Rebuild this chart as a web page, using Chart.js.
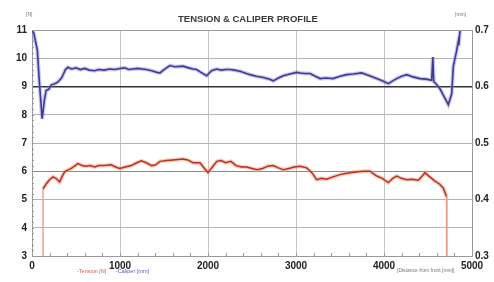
<!DOCTYPE html>
<html>
<head>
<meta charset="utf-8">
<script src="https://cdn.jsdelivr.net/npm/chart.js@4.4.0/dist/chart.umd.min.js"></script>
<style>
html,body{margin:0;padding:0;background:#fff;}
#wrap{width:494px;height:282px;position:relative;}
</style>
</head>
<body>
<div id="wrap"><canvas id="c" width="494" height="282"></canvas></div>
<script>
// ---- data ----
const caliperDistance = [0,20,40,60,85,115,140,160,190,220,260,295,335,360,380,410,450,500,550,600,650,712,760,820,880,940,1000,1053,1100,1150,1200,1250,1300,1360,1420,1455,1500,1568,1620,1716,1780,1830,1871,1920,1985,2040,2098,2150,2200,2250,2300,2364,2420,2477,2550,2629,2700,2742,2800,2856,2930,3008,3050,3100,3159,3220,3273,3340,3420,3500,3576,3650,3746,3820,3917,3980,4049,4100,4144,4200,4258,4330,4409,4480,4542,4555,4565,4600,4636,4690,4731,4769,4788,4826,4845,4850,4864];
const caliperMm = [0.698,0.695,0.680,0.665,0.605,0.543,0.575,0.593,0.595,0.603,0.605,0.608,0.615,0.623,0.630,0.634,0.631,0.633,0.630,0.632,0.629,0.628,0.630,0.629,0.631,0.630,0.632,0.633,0.630,0.631,0.632,0.631,0.630,0.628,0.625,0.624,0.630,0.637,0.635,0.636,0.633,0.631,0.630,0.625,0.619,0.628,0.631,0.629,0.630,0.630,0.629,0.627,0.624,0.621,0.618,0.616,0.613,0.610,0.615,0.619,0.622,0.625,0.624,0.623,0.623,0.618,0.614,0.615,0.614,0.618,0.621,0.622,0.624,0.620,0.614,0.610,0.605,0.610,0.614,0.618,0.621,0.617,0.614,0.613,0.611,0.652,0.609,0.603,0.596,0.580,0.568,0.587,0.636,0.664,0.680,0.673,0.700];

const tensionDistance = [125,126,163,200,239,270,295,314,340,371,410,447,490,523,570,617,660,712,760,820,901,950,996,1060,1128,1190,1242,1300,1360,1400,1455,1530,1602,1660,1716,1770,1830,1909,1960,2000,2050,2100,2150,2200,2260,2320,2380,2440,2500,2560,2620,2680,2740,2800,2860,2920,2980,3045,3121,3180,3235,3290,3348,3420,3500,3560,3614,3700,3770,3841,3917,3980,4049,4100,4144,4200,4258,4320,4390,4440,4466,4520,4580,4630,4674,4712,4713];
const tensionN = [3.0,5.38,5.56,5.70,5.80,5.75,5.68,5.62,5.80,5.98,6.05,6.10,6.20,6.27,6.20,6.18,6.20,6.15,6.20,6.20,6.23,6.15,6.10,6.15,6.20,6.30,6.37,6.30,6.20,6.22,6.35,6.38,6.40,6.42,6.43,6.40,6.30,6.30,6.10,5.95,6.15,6.35,6.38,6.30,6.35,6.20,6.15,6.15,6.10,6.05,6.10,6.18,6.20,6.12,6.05,6.10,6.15,6.18,6.12,5.95,5.70,5.75,5.72,5.80,5.88,5.92,5.95,5.98,6.00,6.00,5.83,5.75,5.60,5.75,5.83,5.75,5.70,5.72,5.68,5.85,5.95,5.80,5.65,5.55,5.40,5.10,3.0];

const xTickLabels = ['0','1000','2000','3000','4000','5000'];
const leftTickLabels = ['3','4','5','6','7','8','9','10','11'];
const rightTickLabels = ['0.3','0.4','0.5','0.6','0.7'];

const titleText = 'TENSION & CALIPER PROFILE';
const leftUnit = '[N]';
const rightUnit = '[mm]';
const legendTension = '-Tension [N]';
const legendCaliper = '-Caliper [mm]';
const xAxisTitle = '[Distance from front [mm]]';

// ---- build datasets ----
const calPts = caliperDistance.map((d,i)=>({x:d,y:caliperMm[i]}));
const tenPts = tensionDistance.map((d,i)=>({x:d,y:tensionN[i]}));
const isDrop = ctx => (ctx.p0.parsed.y <= 3.001 || ctx.p1.parsed.y <= 3.001);

const textPlugin = {
  id:'texts',
  afterDraw(chart){
    const c = chart.ctx, a = chart.chartArea;
    c.save();
    c.textBaseline='middle';
    c.fillStyle='#3a3a3a';
    c.font='bold 9.5px "Liberation Sans", Arial, sans-serif';
    c.textAlign='center';
    c.fillText(titleText, 248, 19);
    c.font='5px "Liberation Sans", Arial, sans-serif';
    c.fillStyle='#777';
    c.textAlign='left';
    c.fillText(leftUnit, 26, 15);
    c.fillText(rightUnit, 455, 15);
    c.fillText(xAxisTitle, 397, 271);
    c.font='5.5px "Liberation Sans", Arial, sans-serif';
    c.fillStyle='#d0614a';
    c.fillText(legendTension, 77, 271);
    c.fillStyle='#5a58b0';
    c.fillText(legendCaliper, 116, 271);
    // minor ticks inside the plot (through the scales)
    const xs = chart.scales.x, ys = chart.scales.y;
    c.strokeStyle='#999';
    c.lineWidth=1;
    c.beginPath();
    for(let v=200; v<5000; v+=200){
      const px = Math.round(xs.getPixelForValue(v))+0.5;
      c.moveTo(px, a.bottom); c.lineTo(px, a.bottom-3);
    }
    for(let v=3.2; v<11; v+=0.2){
      const py = Math.round(ys.getPixelForValue(v))+0.5;
      c.moveTo(a.left, py); c.lineTo(a.left+2, py);
    }
    c.stroke();
    c.restore();
  }
};

new Chart(document.getElementById('c'), {
  type:'line',
  data:{
    datasets:[
      {data:calPts, yAxisID:'y1', borderColor:'rgba(140,135,210,0.45)', borderWidth:4, pointRadius:0, tension:0, order:4},
      {data:calPts, yAxisID:'y1', borderColor:'#3e3a98', borderWidth:1.6, pointRadius:0, tension:0, order:3},
      {data:tenPts, yAxisID:'y', borderColor:'rgba(240,160,140,0.55)', borderWidth:4, pointRadius:0, tension:0, order:2,
        segment:{borderColor: ctx => isDrop(ctx) ? 'rgba(245,190,175,0.6)' : undefined, borderWidth: ctx => isDrop(ctx) ? 2 : undefined}},
      {data:tenPts, yAxisID:'y', borderColor:'#b8321f', borderWidth:1.5, pointRadius:0, tension:0, order:1,
        segment:{borderColor: ctx => isDrop(ctx) ? '#e89a86' : undefined, borderWidth: ctx => isDrop(ctx) ? 1 : undefined}}
    ]
  },
  options:{
    responsive:false,
    animation:false,
    events:[],
    layout:{padding:{top:30,left:0,right:0,bottom:0}},
    plugins:{legend:{display:false},title:{display:false},tooltip:{enabled:false}},
    scales:{
      x:{
        type:'linear', min:0, max:5000,
        afterBuildTicks: s => { const t=[]; for(let v=0; v<=5000; v+=1000) t.push({value:v}); s.ticks=t; },
        afterFit: s => { s.height = 26; },
        ticks:{autoSkip:false, maxRotation:0, padding:4, color:'#222',
          font:{family:'"Liberation Sans", Arial, sans-serif', size:10, weight:'bold'},
          callback:(v,i)=> xTickLabels[i]},
        grid:{drawTicks:false, color: ctx => (ctx.tick && (ctx.tick.value===0 || ctx.tick.value===5000)) ? 'rgba(0,0,0,0)' : '#c4c4c4', lineWidth:1},
        border:{display:true, color:'#9a9a9a', width:1}
      },
      y:{
        position:'left', min:3, max:11,
        afterBuildTicks: s => { const t=[]; for(let v=3; v<=11; v++) t.push({value:v}); s.ticks=t; },
        afterFit: s => { s.width = 32; },
        ticks:{padding:5, color:'#222',
          font:{family:'"Liberation Sans", Arial, sans-serif', size:10, weight:'bold'},
          callback:(v,i)=> leftTickLabels[i]},
        grid:{drawTicks:false,
          color: ctx => { const v = ctx.tick && ctx.tick.value; if(v===3||v===11) return 'rgba(0,0,0,0)'; if(v===9) return '#333'; if(v===6) return '#8a8a8a'; return '#b4b4b4'; },
          lineWidth: ctx => (ctx.tick && ctx.tick.value===9) ? 1.6 : 1},
        border:{display:true, color:'#9a9a9a', width:1}
      },
      y1:{
        position:'right', min:0.3, max:0.7,
        afterBuildTicks: s => { const t=[]; for(let k=0; k<=4; k++) t.push({value:0.3+k*0.1}); s.ticks=t; },
        afterFit: s => { s.width = 22; },
        ticks:{padding:3, color:'#222',
          font:{family:'"Liberation Sans", Arial, sans-serif', size:10, weight:'bold'},
          callback:(v,i)=> rightTickLabels[i]},
        grid:{display:false, drawTicks:false},
        border:{display:true, color:'#9a9a9a', width:1}
      }
    }
  },
  plugins:[textPlugin, {
    id:'topBorder',
    afterDraw(chart){ const c=chart.ctx,a=chart.chartArea; c.save(); c.strokeStyle='#9a9a9a'; c.lineWidth=1; c.beginPath(); c.moveTo(a.left,a.top+0.5); c.lineTo(a.right,a.top+0.5); c.stroke(); c.restore(); }
  }]
});
</script>
</body>
</html>
